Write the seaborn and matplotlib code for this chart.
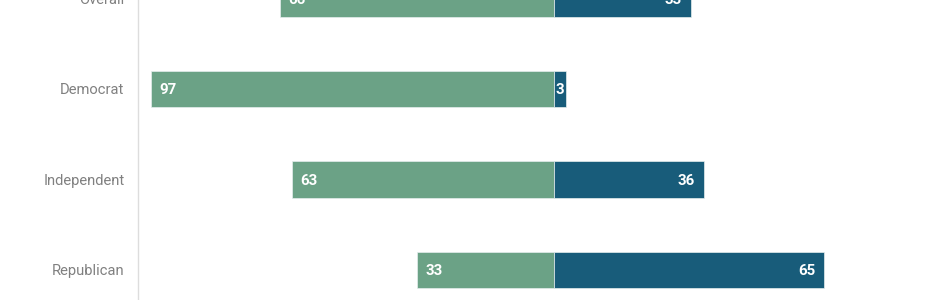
import matplotlib
matplotlib.use("Agg")
import matplotlib.pyplot as plt
import seaborn as sns
import numpy as np

groups = ["Overall", "Democrat", "Independent", "Republican"]
left_vals = [66, 97, 63, 33]
right_vals = [33, 3, 36, 65]

GREEN = "#6ba286"
BLUE = "#185c7a"

sns.set_theme(style="white")
plt.rcParams["font.family"] = ["Roboto", "DejaVu Sans"]

W, H = 950, 300
fig = plt.figure(figsize=(W / 100, H / 100), dpi=100)

# pixel geometry
px_per_unit = 4.157
x0_px = 554.0
row_px = 90.5
first_center_px = -1.5

xmin, xmax = -100, 100
left_px = x0_px + xmin * px_per_unit
width_px = (xmax - xmin) * px_per_unit
top_px = first_center_px - 0.5 * row_px
bottom_px = first_center_px + (len(groups) - 0.5) * row_px

ax = fig.add_axes([left_px / W, (H - bottom_px) / H, width_px / W, (bottom_px - top_px) / H])

neg = [-v for v in left_vals]
sns.barplot(x=neg, y=groups, orient="h", color=GREEN, width=0.4, ax=ax,
            saturation=1, edgecolor="#e6eeee", linewidth=0.5)
sns.barplot(x=right_vals, y=groups, orient="h", color=BLUE, width=0.4, ax=ax,
            saturation=1, edgecolor="#e6eeee", linewidth=0.5)

ax.set_xlim(xmin, xmax)
ax.set_ylim(len(groups) - 0.5, -0.5)
ax.set_xlabel("")
ax.set_ylabel("")
ax.set_xticks([])
for s in ["top", "right", "bottom"]:
    ax.spines[s].set_visible(False)
ax.spines["left"].set_color("#dddddd")
ax.spines["left"].set_linewidth(1.0)
ax.tick_params(axis="y", length=0, pad=10, labelsize=10.6, labelcolor="#808080")

FS = 10.8
# value labels
for bar, v in zip(ax.containers[0], left_vals):
    x = min(bar.get_x(), bar.get_x() + bar.get_width())
    y = bar.get_y() + bar.get_height() / 2
    ax.annotate(f"{v}", (x, y), xytext=(8.5, -1.2), textcoords="offset pixels",
                ha="left", va="center", color="white", fontsize=FS, fontweight="bold")
for bar, v in zip(ax.containers[1], right_vals):
    x = max(bar.get_x(), bar.get_x() + bar.get_width())
    y = bar.get_y() + bar.get_height() / 2
    if v * px_per_unit < 30:
        ax.annotate(f"{v}", (bar.get_x() + bar.get_width() / 2, y), xytext=(0, -1.2),
                    textcoords="offset pixels", ha="center", va="center",
                    color="white", fontsize=FS, fontweight="bold")
    else:
        ax.annotate(f"{v}", (x, y), xytext=(-9, -1.2), textcoords="offset pixels",
                    ha="right", va="center", color="white", fontsize=FS, fontweight="bold")

fig.savefig("out.png", dpi=100, facecolor="white")
